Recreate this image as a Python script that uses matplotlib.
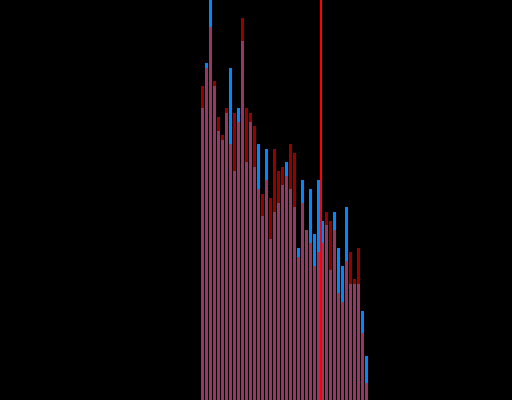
import matplotlib
matplotlib.use("Agg")
import matplotlib.pyplot as plt
import numpy as np

# bar index (bins)
bins = list(range(42))
# heights in chart units (0..400 visible)
blue_vals = [292, 337, 420, 314, 269, 260, 287, 332, 229, 292, 359, 238, 278, 233, 256, 184,
             251, 161, 188, 197, 215, 238, 211, 193, 152, 220, 170, 211, 166, 220, 179, 175,
             130, 188, 152, 134, 193, 116, 116, 116, 89, 44]
red_vals = [314, 332, 373, 319, 283, 265, 292, 256, 287, 278, 382, 292, 287, 274, 211, 206,
            220, 202, 251, 229, 233, 224, 256, 247, 143, 197, 170, 157, 134, 148, 157, 188,
            179, 170, 107, 98, 139, 148, 121, 152, 67, 17]
marker_x = 29.5

fig = plt.figure(figsize=(5.12, 4.0), dpi=100)
fig.patch.set_facecolor("black")
ax = fig.add_axes([0, 0, 1, 1])
ax.set_facecolor("black")

x = np.array(bins)
ax.bar(x, blue_vals, width=0.75, color="#0088ff", linewidth=0)
ax.bar(x, red_vals, width=0.75, color="#ff0000", alpha=0.6, linewidth=0)
ax.axvline(marker_x, color="#ff0000", linewidth=1.2, antialiased=False)

ax.set_xlim(-50.625, 77.375)
ax.set_ylim(0, 400)
ax.axis("off")

fig.savefig("out.png", dpi=100, facecolor="black")
